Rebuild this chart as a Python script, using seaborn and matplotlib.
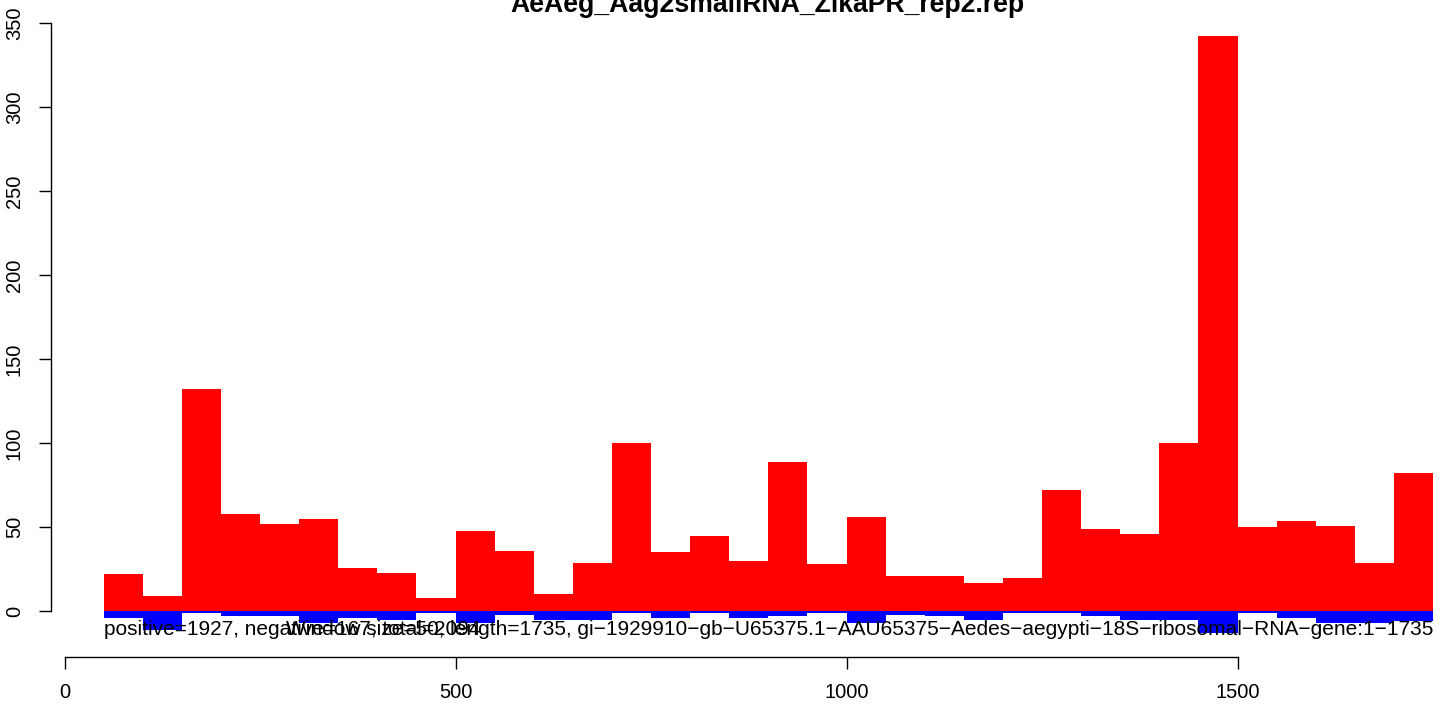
import matplotlib
matplotlib.use("Agg")
import matplotlib.pyplot as plt
import seaborn as sns
import numpy as np
import pandas as pd

# ---- data ----
window = 50
bin_starts = list(range(50, 1750, 50))
positive = [22, 9, 132, 58, 52, 55, 26, 23, 8, 48, 36, 10, 29, 100, 35, 45, 30,
            89, 28, 56, 21, 21, 17, 20, 72, 49, 46, 100, 342, 50, 54, 51, 29, 82]
negative = [4, 11, 1, 3, 3, 7, 4, 5, 1, 7, 2, 5, 5, 1, 4, 1, 4,
            3, 1, 7, 2, 3, 5, 1, 1, 3, 5, 5, 13, 1, 4, 7, 7, 6]
x_ticks = [0, 500, 1000, 1500]
y_ticks = [0, 50, 100, 150, 200, 250, 300, 350]
title = "AeAeg_Aag2smallRNA_ZikaPR_rep2.rep"
info_left = "positive=1927, negative=167, total=2094"
info_right = ("Window size=50, length=1735, gi\u22121929910\u2212gb\u2212U65375.1\u2212AAU65375"
              "\u2212Aedes\u2212aegypti\u221218S\u2212ribosomal\u2212RNA\u2212gene:1\u22121735")

df = pd.DataFrame({
    "center": [s + window / 2 for s in bin_starts],
    "pos": positive,
    "neg": [-v for v in negative],
})

sns.set_style("white")
plt.rcParams["font.family"] = ["Liberation Sans", "DejaVu Sans"]

W, H = 1444, 709
fig = plt.figure(figsize=(W / 100, H / 100), dpi=100)
left_px, right_px, top_px, bottom_px = 51, 1474, 12.6, 657
ax = fig.add_axes([left_px / W, 1 - bottom_px / H,
                   (right_px - left_px) / W, (bottom_px - top_px) / H])

sns.barplot(data=df, x="center", y="pos", native_scale=True, width=1.0,
            color="#ff0000", saturation=1, linewidth=0, edgecolor="none", ax=ax)
sns.barplot(data=df, x="center", y="neg", native_scale=True, width=1.0,
            color="#0000ff", saturation=1, linewidth=0, edgecolor="none", ax=ax)

ax.set_xlim(-17.4, 1802.4)
ax.set_ylim(-27.2, 356.2)
ax.set_xlabel("")
ax.set_ylabel("")

for s in ["top", "right"]:
    ax.spines[s].set_visible(False)
for s in ["left", "bottom"]:
    ax.spines[s].set_color("black")
    ax.spines[s].set_linewidth(1.0)
ax.spines["left"].set_bounds(y_ticks[0], y_ticks[-1])
ax.spines["bottom"].set_bounds(x_ticks[0], x_ticks[-1])

ax.set_xticks(x_ticks)
ax.set_xticklabels([str(v) for v in x_ticks])
ax.set_yticks(y_ticks)
ax.set_yticklabels([str(v) for v in y_ticks], rotation=90, va="center")
ax.tick_params(axis="both", which="major", direction="out", length=8.6, width=1.0,
               colors="black", labelsize=14.5, bottom=True, left=True,
               top=False, right=False)
ax.tick_params(axis="x", pad=10)
ax.tick_params(axis="y", pad=11)

ax.text(bin_starts[0], -14.3, info_left, ha="left", va="baseline",
        fontsize=15, color="black")
ax.text(bin_starts[-1] + window, -14.3, info_right, ha="right", va="baseline",
        fontsize=15, color="black")

fig.text(767 / W, 1 - 12 / H, title, ha="center", va="baseline",
         fontsize=19.2, fontweight="bold", color="black")

fig.savefig("out.png", dpi=100, facecolor="white")
